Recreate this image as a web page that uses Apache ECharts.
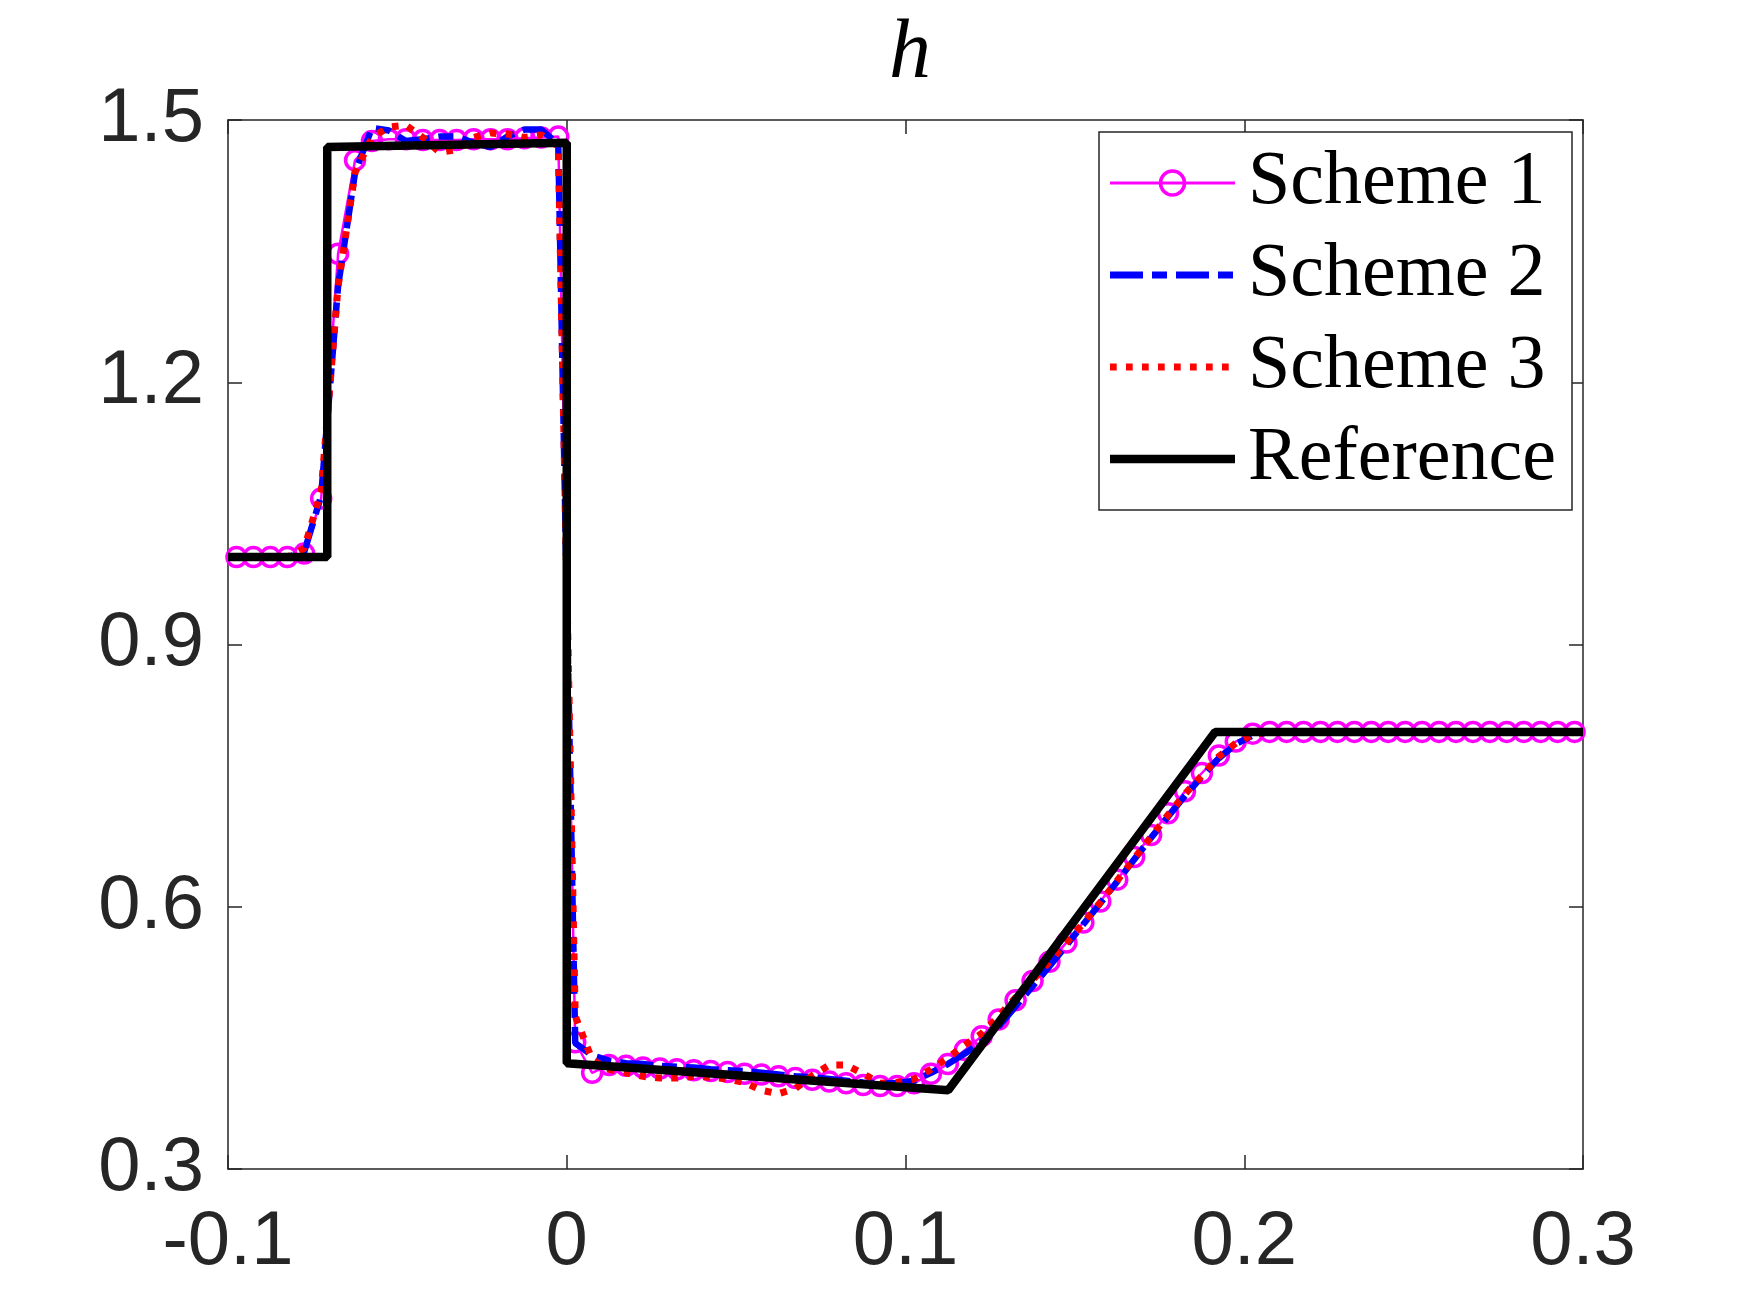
<!DOCTYPE html>
<html>
<head>
<meta charset="utf-8">
<script src="https://cdn.jsdelivr.net/npm/echarts@6/dist/echarts.min.js"></script>
<style>html,body{margin:0;padding:0;background:#fff;}#chart{width:1750px;height:1313px;}</style>
</head>
<body>
<div id="chart"></div>
<script>
// cell-centre x positions
var xs = [-0.0975,-0.0925,-0.0875,-0.0825,-0.0775,-0.0725,-0.0675,-0.0625,-0.0575,-0.0525,
-0.0475,-0.0425,-0.0375,-0.0325,-0.0275,-0.0225,-0.0175,-0.0125,-0.0075,-0.0025,
0.0025,0.0075,0.0125,0.0175,0.0225,0.0275,0.0325,0.0375,0.0425,0.0475,
0.0525,0.0575,0.0625,0.0675,0.0725,0.0775,0.0825,0.0875,0.0925,0.0975,
0.1025,0.1075,0.1125,0.1175,0.1225,0.1275,0.1325,0.1375,0.1425,0.1475,
0.1525,0.1575,0.1625,0.1675,0.1725,0.1775,0.1825,0.1875,0.1925,0.1975,
0.2025,0.2075,0.2125,0.2175,0.2225,0.2275,0.2325,0.2375,0.2425,0.2475,
0.2525,0.2575,0.2625,0.2675,0.2725,0.2775,0.2825,0.2875,0.2925,0.2975];

var scheme1 = [1.0,1.0,1.0,1.0,1.004,1.067,1.347,1.454,1.476,1.478,
1.478,1.477,1.477,1.477,1.478,1.478,1.478,1.479,1.480,1.481,
0.445,0.410,0.419,0.418,0.416,0.415,0.414,0.413,0.412,0.411,
0.409,0.408,0.406,0.404,0.402,0.400,0.398,0.396,0.395,0.395,
0.398,0.409,0.420,0.436,0.452,0.471,0.493,0.515,0.537,0.559,
0.582,0.606,0.631,0.657,0.682,0.707,0.732,0.753,0.773,0.789,
0.798,0.800,0.800,0.800,0.800,0.800,0.800,0.800,0.800,0.800,
0.800,0.800,0.800,0.800,0.800,0.800,0.800,0.800,0.800,0.800];

var scheme2 = [1.0,1.0,1.0,1.0,1.006,1.070,1.310,1.440,1.491,1.488,
1.476,1.478,1.481,1.481,1.474,1.469,1.481,1.489,1.489,1.472,
0.444,0.430,0.424,0.421,0.420,0.418,0.417,0.416,0.414,0.413,
0.412,0.410,0.408,0.406,0.405,0.403,0.401,0.399,0.398,0.398,
0.401,0.410,0.420,0.432,0.446,0.463,0.486,0.509,0.532,0.556,
0.580,0.604,0.629,0.654,0.679,0.703,0.727,0.749,0.770,0.786,
0.796,0.800,0.800,0.800,0.800,0.800,0.800,0.800,0.800,0.800,
0.800,0.800,0.800,0.800,0.800,0.800,0.800,0.800,0.800,0.800];

var scheme3 = [1.0,1.0,1.0,1.0,1.010,1.075,1.310,1.440,1.480,1.492,
1.494,1.480,1.463,1.466,1.480,1.485,1.484,1.480,1.483,1.470,
0.475,0.425,0.414,0.410,0.406,0.404,0.404,0.406,0.405,0.403,
0.399,0.390,0.386,0.392,0.407,0.419,0.419,0.409,0.398,0.399,
0.403,0.414,0.427,0.442,0.455,0.475,0.496,0.516,0.537,0.559,
0.581,0.605,0.630,0.655,0.680,0.705,0.729,0.750,0.772,0.787,
0.797,0.800,0.800,0.800,0.800,0.800,0.800,0.800,0.800,0.800,
0.800,0.800,0.800,0.800,0.800,0.800,0.800,0.800,0.800,0.800];

var refX = [-0.1, -0.0707, -0.0707, 0.0, 0.0, 0.1126, 0.1914, 0.3];
var refY = [1.0, 1.0, 1.469, 1.474, 0.421, 0.390, 0.800, 0.800];

var seriesNames = ['Scheme 1', 'Scheme 2', 'Scheme 3', 'Reference'];
var xTicks = [-0.1, 0, 0.1, 0.2, 0.3];
var yTicks = [0.3, 0.6, 0.9, 1.2, 1.5];
var titleText = 'h';

function pairs(xa, ya) { return xa.map(function (x, i) { return [x, ya[i]]; }); }

var axisColor = '#262626';
var tickFont = { fontFamily: 'Liberation Sans', fontSize: 76, color: axisColor };

function xAxisCfg(pos, showLabel) {
  return {
    type: 'value', position: pos, min: xTicks[0], max: xTicks[xTicks.length - 1], interval: 0.1,
    axisLine: { show: true, onZero: false, lineStyle: { color: axisColor, width: 1.5 } },
    axisTick: { show: true, inside: true, length: 14, lineStyle: { color: axisColor, width: 1.5 } },
    splitLine: { show: false },
    axisLabel: Object.assign({ show: showLabel, margin: 36, formatter: function (v) { return String(Math.round(v * 10) / 10); } }, tickFont)
  };
}
function yAxisCfg(pos, showLabel) {
  return {
    type: 'value', position: pos, min: yTicks[0], max: yTicks[yTicks.length - 1], interval: 0.3,
    axisLine: { show: true, onZero: false, lineStyle: { color: axisColor, width: 1.5 } },
    axisTick: { show: true, inside: true, length: 14, lineStyle: { color: axisColor, width: 1.5 } },
    splitLine: { show: false },
    axisLabel: Object.assign({ show: showLabel, margin: 24, formatter: function (v) { return v.toFixed(1); } }, tickFont)
  };
}

// legend box drawn with graphic elements (box 1099..1572 x 132..510)
var legLeft = 1099, legTop = 132, legW = 473, legH = 378;
var rowY = [183, 275, 367, 459];
var lineX0 = 1110, lineX1 = 1235, textX = 1248;
var legendStyles = [
  { stroke: '#ff00ff', lineWidth: 3 },
  { stroke: '#0000ff', lineWidth: 7, lineDash: [33, 9, 15, 9], lineCap: 'butt' },
  { stroke: '#ff0000', lineWidth: 7, lineDash: [6.7, 9.3], lineCap: 'butt' },
  { stroke: '#000000', lineWidth: 8.5 }
];
var legendGraphics = [{
  type: 'rect', shape: { x: legLeft, y: legTop, width: legW, height: legH },
  style: { fill: '#fff', stroke: axisColor, lineWidth: 1.5 }, z: 100
}];
seriesNames.forEach(function (name, i) {
  legendGraphics.push({ type: 'line', shape: { x1: lineX0, y1: rowY[i], x2: lineX1, y2: rowY[i] }, style: legendStyles[i], z: 101 });
  legendGraphics.push({ type: 'text', x: textX, y: rowY[i], style: { text: name, font: '76px "Liberation Serif"', fill: '#000', verticalAlign: 'middle' }, z: 101 });
});
legendGraphics.push({ type: 'circle', shape: { cx: (lineX0 + lineX1) / 2, cy: rowY[0], r: 12 }, style: { fill: 'none', stroke: '#ff00ff', lineWidth: 3.5 }, z: 102 });

var chart = echarts.init(document.getElementById('chart'), null, { renderer: 'canvas' });
chart.setOption({
  animation: false,
  backgroundColor: '#fff',
  title: {
    text: titleText, left: 905, top: 8, textAlign: 'center',
    textStyle: { fontFamily: 'Liberation Serif', fontStyle: 'italic', fontWeight: 'normal', fontSize: 84, color: '#000' }
  },
  grid: { left: 228, right: 167, top: 120, bottom: 144, containLabel: false },
  xAxis: [xAxisCfg('bottom', true), xAxisCfg('top', false)],
  yAxis: [yAxisCfg('left', true), yAxisCfg('right', false)],
  graphic: legendGraphics,
  series: [
    {
      name: seriesNames[0], type: 'line', data: pairs(xs, scheme1), z: 2,
      symbol: 'circle', symbolSize: 19, showSymbol: true,
      itemStyle: { color: 'rgba(255,0,255,0)', borderColor: '#ff00ff', borderWidth: 3.5 },
      lineStyle: { color: '#ff00ff', width: 2.5 }
    },
    {
      name: seriesNames[1], type: 'line', data: pairs(xs, scheme2), symbol: 'none', z: 3,
      lineStyle: { color: '#0000ff', width: 6.5, type: [33, 9, 15, 9], cap: 'butt' }
    },
    {
      name: seriesNames[2], type: 'line', data: pairs(xs, scheme3), symbol: 'none', z: 4,
      lineStyle: { color: '#ff0000', width: 7, type: [6.7, 9.3], cap: 'butt' }
    },
    {
      name: seriesNames[3], type: 'line', data: pairs(refX, refY), symbol: 'none', z: 5,
      lineStyle: { color: '#000000', width: 8.5 }
    }
  ]
});
</script>
</body>
</html>
